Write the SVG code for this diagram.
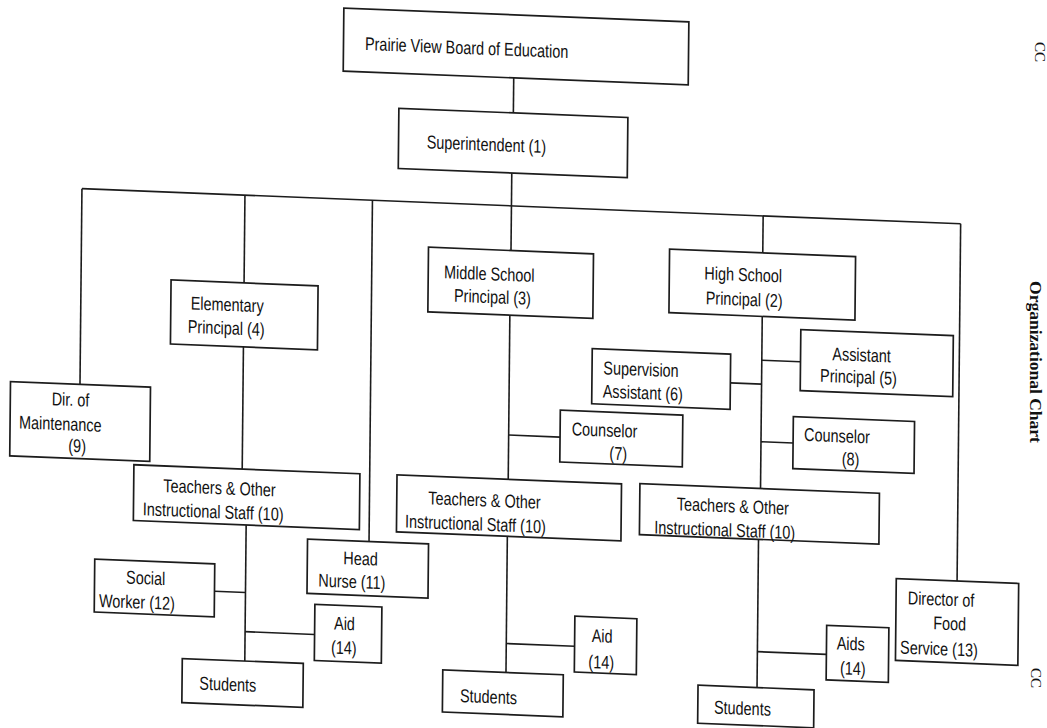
<svg xmlns="http://www.w3.org/2000/svg" width="1047" height="728" viewBox="0 0 1047 728">
<style>
.box{fill:#fff;stroke:#1c1c1c;stroke-width:1.7}
.ln{fill:none;stroke:#1c1c1c;stroke-width:1.6}
.t{font-family:"Liberation Sans",Arial,Helvetica,sans-serif;font-size:18.5px;fill:#111}
.side{font-family:"Liberation Serif","Times New Roman",serif;fill:#111}
</style>
<rect width="1047" height="728" fill="#fff"/>
<g transform="matrix(1,0.04,-0.01,1,0,-20)">
  <g id="connectors" class="ln">
    <path d="M514.5 77.5V112.3"/>
    <path d="M513.5 172.5V250"/>
    <path d="M84 205.3H962.7"/>
    <path d="M84 205.3V401"/>
    <path d="M247 205.3V293"/>
    <path d="M374.5 205.3V546.5"/>
    <path d="M765.2 205.3V242.3"/>
    <path d="M962.7 205.3V562.5"/>
    <path d="M247 357V479.2"/>
    <path d="M251.5 535V671"/>
    <path d="M220.5 602.5H251.5"/>
    <path d="M251.5 641.6H321"/>
    <path d="M513 314.6V478.8"/>
    <path d="M513 434.5H564.4"/>
    <path d="M512.7 535.8V672"/>
    <path d="M512.7 643H581"/>
    <path d="M765.3 305.8V477.9"/>
    <path d="M765.3 349.6H804"/>
    <path d="M734 373.5H765.3"/>
    <path d="M765.3 431.1H797.4"/>
    <path d="M763.8 528.8V677"/>
    <path d="M763.8 641.1H832.8"/>
  </g>
  <g id="board">
    <rect class="box" x="344" y="14.3" width="345" height="63"/>
    <text class="t" transform="translate(365.5,55.4) scale(0.78,1)">Prairie View Board of Education</text>
  </g>
  <g id="superintendent">
    <rect class="box" x="400" y="112.3" width="229" height="60.2"/>
    <text class="t" transform="translate(428.2,151.2) scale(0.78,1)">Superintendent (1)</text>
  </g>
  <g id="dir-maintenance">
    <rect class="box" x="14.5" y="401" width="140" height="74.3"/>
    <text class="t" transform="translate(55.9,422.9) scale(0.78,1)">Dir. of</text>
    <text class="t" transform="translate(23.5,447.5) scale(0.78,1)">Maintenance</text>
    <text class="t" transform="translate(73,469) scale(0.78,1)">(9)</text>
  </g>
  <g id="elementary-principal">
    <rect class="box" x="174" y="293" width="147" height="64"/>
    <text class="t" transform="translate(193.9,321.7) scale(0.78,1)">Elementary</text>
    <text class="t" transform="translate(191.2,345.2) scale(0.78,1)">Principal (4)</text>
  </g>
  <g id="elementary-teachers">
    <rect class="box" x="138.7" y="479.2" width="226" height="55.8"/>
    <text class="t" transform="translate(168.4,505.2) scale(0.78,1)">Teachers &amp; Other</text>
    <text class="t" transform="translate(148,529.3) scale(0.78,1)">Instructional Staff (10)</text>
  </g>
  <g id="social-worker">
    <rect class="box" x="100.5" y="575" width="120" height="53"/>
    <text class="t" transform="translate(132,598.3) scale(0.78,1)">Social</text>
    <text class="t" transform="translate(105.2,622.7) scale(0.78,1)">Worker (12)</text>
  </g>
  <g id="elementary-aid">
    <rect class="box" x="321" y="611.5" width="67" height="56.2"/>
    <text class="t" transform="translate(340.4,635.9) scale(0.78,1)">Aid</text>
    <text class="t" transform="translate(337.6,660.1) scale(0.78,1)">(14)</text>
  </g>
  <g id="elementary-students">
    <rect class="box" x="189" y="671" width="121" height="44"/>
    <text class="t" transform="translate(206.3,701.3) scale(0.78,1)">Students</text>
  </g>
  <g id="head-nurse">
    <rect class="box" x="313" y="546.5" width="121" height="54.3"/>
    <text class="t" transform="translate(349,570.3) scale(0.78,1)">Head</text>
    <text class="t" transform="translate(324.2,593.6) scale(0.78,1)">Nurse (11)</text>
  </g>
  <g id="middle-principal">
    <rect class="box" x="431" y="250" width="165" height="64.6"/>
    <text class="t" transform="translate(446.8,280.5) scale(0.78,1)">Middle School</text>
    <text class="t" transform="translate(457,303.5) scale(0.78,1)">Principal (3)</text>
  </g>
  <g id="counselor-7">
    <rect class="box" x="564.4" y="407.6" width="122.5" height="51.8"/>
    <text class="t" transform="translate(576,432.1) scale(0.78,1)">Counselor</text>
    <text class="t" transform="translate(613.9,454.9) scale(0.78,1)">(7)</text>
  </g>
  <g id="middle-teachers">
    <rect class="box" x="401.8" y="478.8" width="224.5" height="57"/>
    <text class="t" transform="translate(433.4,506.9) scale(0.78,1)">Teachers &amp; Other</text>
    <text class="t" transform="translate(410.3,531.1) scale(0.78,1)">Instructional Staff (10)</text>
  </g>
  <g id="middle-aid">
    <rect class="box" x="581" y="613" width="62" height="55.8"/>
    <text class="t" transform="translate(598.1,638) scale(0.78,1)">Aid</text>
    <text class="t" transform="translate(595,664.2) scale(0.78,1)">(14)</text>
  </g>
  <g id="middle-students">
    <rect class="box" x="449.5" y="672" width="120.5" height="42"/>
    <text class="t" transform="translate(467,703.3) scale(0.78,1)">Students</text>
  </g>
  <g id="high-principal">
    <rect class="box" x="672" y="242.3" width="186" height="63.5"/>
    <text class="t" transform="translate(707,271.1) scale(0.78,1)">High School</text>
    <text class="t" transform="translate(708.7,295.8) scale(0.78,1)">Principal (2)</text>
  </g>
  <g id="assistant-principal">
    <rect class="box" x="804" y="317.4" width="152.5" height="61"/>
    <text class="t" transform="translate(835.8,346.7) scale(0.78,1)">Assistant</text>
    <text class="t" transform="translate(823.7,368.9) scale(0.78,1)">Principal (5)</text>
  </g>
  <g id="supervision-assistant">
    <rect class="box" x="595.7" y="344.7" width="138.4" height="55.2"/>
    <text class="t" transform="translate(607,369.9) scale(0.78,1)">Supervision</text>
    <text class="t" transform="translate(606.6,393.2) scale(0.78,1)">Assistant (6)</text>
  </g>
  <g id="counselor-8">
    <rect class="box" x="797.4" y="404.7" width="121.2" height="52"/>
    <text class="t" transform="translate(808.3,428.5) scale(0.78,1)">Counselor</text>
    <text class="t" transform="translate(846.2,451.3) scale(0.78,1)">(8)</text>
  </g>
  <g id="high-teachers">
    <rect class="box" x="644.7" y="477.9" width="239.5" height="50.9"/>
    <text class="t" transform="translate(681.7,502.9) scale(0.78,1)">Teachers &amp; Other</text>
    <text class="t" transform="translate(659.6,527.1) scale(0.78,1)">Instructional Staff (10)</text>
  </g>
  <g id="high-aids">
    <rect class="box" x="832.8" y="612" width="62.2" height="54.6"/>
    <text class="t" transform="translate(843,635.8) scale(0.78,1)">Aids</text>
    <text class="t" transform="translate(846.6,660.4) scale(0.78,1)">(14)</text>
  </g>
  <g id="high-students">
    <rect class="box" x="704.8" y="677" width="116" height="38"/>
    <text class="t" transform="translate(721,704.7) scale(0.78,1)">Students</text>
  </g>
  <g id="food-service">
    <rect class="box" x="901.9" y="562.5" width="122.4" height="81.8"/>
    <text class="t" transform="translate(913.6,587.7) scale(0.78,1)">Director of</text>
    <text class="t" transform="translate(939.4,611.7) scale(0.78,1)">Food</text>
    <text class="t" transform="translate(906.4,637.3) scale(0.78,1)">Service (13)</text>
  </g>
</g>
<g id="side-labels">
  <text class="side" font-size="15" text-anchor="middle" transform="translate(1035,52) rotate(90)">CC</text>
  <text class="side" font-size="17.5" font-weight="bold" text-anchor="middle" transform="translate(1030,362) rotate(90)">Organizational Chart</text>
  <text class="side" font-size="15" text-anchor="middle" transform="translate(1031,678) rotate(90)">CC</text>
</g>
</svg>
